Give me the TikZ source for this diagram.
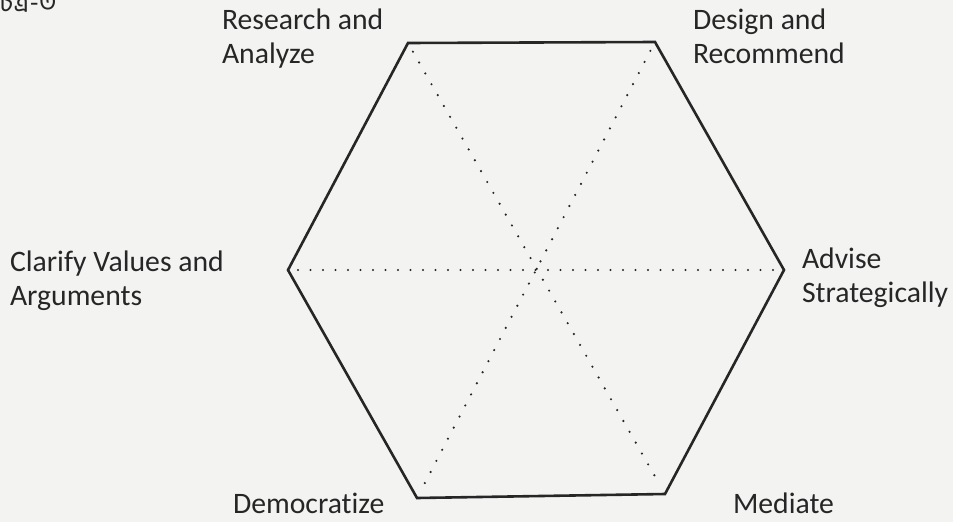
\documentclass[tikz,border=0pt]{standalone}
\usepackage{fontspec}
\setmainfont{Carlito}[Ligatures=NoCommon]
\newfontfamily\bnfont[Script=Bengali]{Hind Siliguri}
\usetikzlibrary{positioning}
\definecolor{paper}{HTML}{F3F3F2}
\definecolor{ink}{HTML}{262626}
\tikzset{
  x=1pt, y=-1pt,
  role/.style={inner sep=0pt, outer sep=0pt, align=left, anchor=base west,
    text=ink, font=\fontsize{29.7}{34}\selectfont},
  rim/.style={draw=ink, line width=2.6pt, line join=miter},
  spoke/.style={draw=ink, line width=2.4pt, line cap=round,
    dash pattern=on 0pt off 12.5pt, shorten >=10pt, shorten <=10pt},
}

\begin{document}
\begin{tikzpicture}
    \fill[paper] (0,0) rectangle (953,522);
    \useasboundingbox (0,0) rectangle (953,522);
    % corners of the hexagon
    \coordinate (TL) at (408,43);
    \coordinate (TR) at (655,42);
    \coordinate (R)  at (784,270);
    \coordinate (BR) at (665,494);
    \coordinate (BL) at (417,498);
    \coordinate (L)  at (288,270);
    \draw[rim] (TL) -- (TR) -- (R) -- (BR) -- (BL) -- (L) -- cycle;
    \path[spoke] (TL) -- (BR);
    \path[spoke] (TR) -- (BL);
    \path[spoke] (L) -- (R);
    % labels (base anchor sits on the last line)
    \node[role] (fig)  at (-8,12)  {\bnfont\fontsize{27}{27}\selectfont চিত্র-৩};
    \node[role] (RA)   at (222,63) {Research and\\Analyze};
    \node[role] (DR)   at (693,63) {Design and\\Recommend};
    \node[role] (CV)   at (10,305) {Clarify Values and\\Arguments};
    \node[role] (AS)   at (802,302) {Advise\\Strategically};
    \node[role] (DEM)  at (233,513) {Democratize};
    \node[role] (MED)  at (733,513) {Mediate};
\end{tikzpicture}
\end{document}
